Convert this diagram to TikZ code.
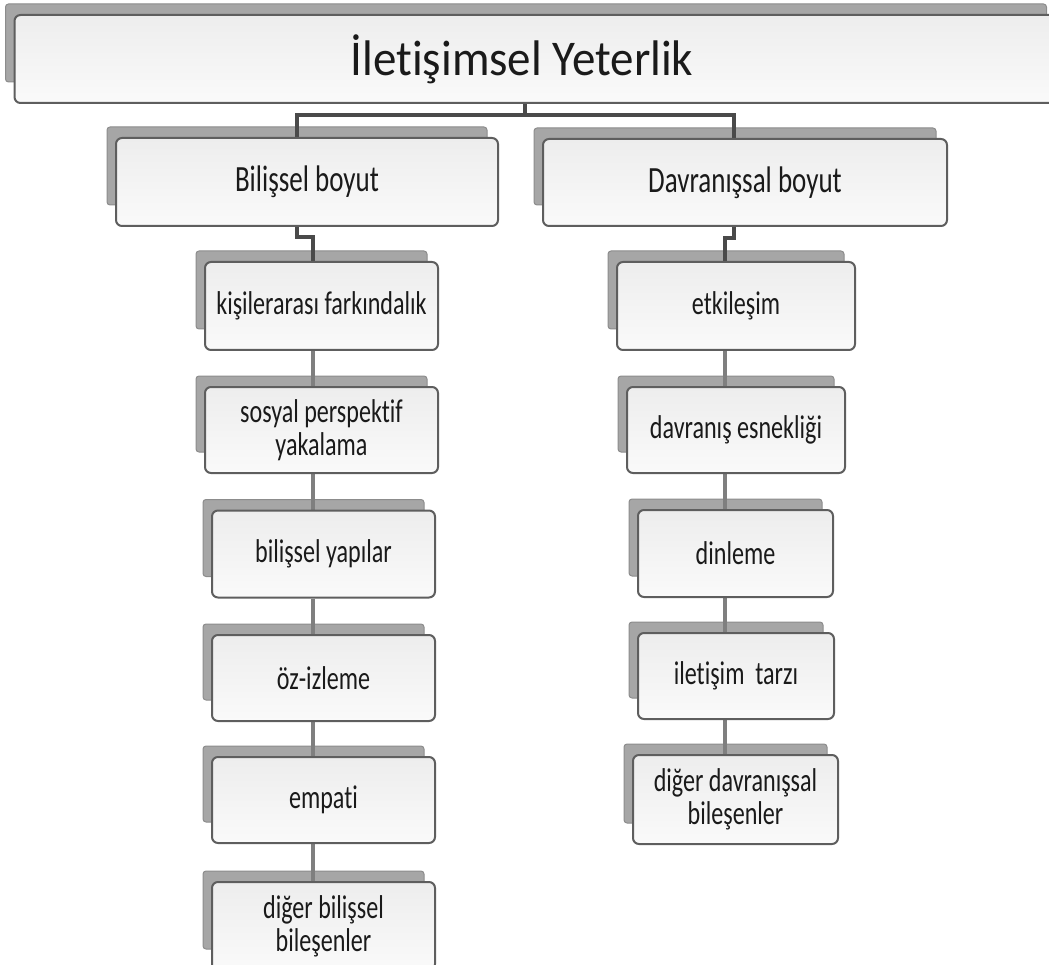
\documentclass[tikz,border=0pt]{standalone}
\usepackage{fontspec}
\setmainfont{Carlito}[Ligatures=NoCommon]
\newfontfamily\boxfont[FakeStretch=0.73,Ligatures=NoCommon]{Carlito}
\newfontfamily\headfont[FakeStretch=0.94,Ligatures=NoCommon]{Carlito}
\usepackage{xcolor}
\usetikzlibrary{calc,backgrounds}

\definecolor{boxline}{HTML}{5E5E5E}
\definecolor{boxtop}{HTML}{EDEDED}
\definecolor{boxbot}{HTML}{FAFAFA}
\definecolor{shade}{HTML}{A6A6A6}
\definecolor{shadeline}{HTML}{8C8C8C}
\definecolor{mainline}{HTML}{4A4A4A}
\definecolor{itemline}{HTML}{7F7F7F}
\definecolor{ink}{HTML}{1A1A1A}

\begin{document}
\begin{tikzpicture}[x=1pt, y=-1pt,
                box/.style={draw=boxline, line width=2pt, rounded corners=6pt,
                  top color=boxtop, bottom color=boxbot, text=ink, inner sep=0pt, align=center},
                title node/.style={box, font=\headfont\fontsize{50}{52}\selectfont},
                dim node/.style={box, font=\boxfont\fontsize{37}{39}\selectfont},
                item node/.style={box, font=\boxfont\fontsize{33}{33}\selectfont},
                main link/.style={draw=mainline, line width=4pt},
                item link/.style={draw=itemline, line width=4.5pt}]

  \useasboundingbox (0,0) rectangle (1049,965);
  \clip (0,0) rectangle (1049,965);

  % top
  \node[title node, minimum width=1043, minimum height=88] (top) at (536,59) {\hspace*{-28pt}İletişimsel Yeterlik};

  % two dimensions
  \node[dim node, minimum width=382, minimum height=88] (b) at (307,182) {Bilişsel boyut};
  \node[dim node, minimum width=404, minimum height=87] (d) at (745,182.5) {Davranışsal boyut};

  % cognitive items
  \node[item node, minimum width=233, minimum height=88] (b1) at (321.5,306) {kişilerarası farkındalık};
  \node[item node, minimum width=233, minimum height=86] (b2) at (321.5,430) {sosyal perspektif\\yakalama};
  \node[item node, minimum width=223, minimum height=87] (b3) at (323.5,554) {bilişsel yapılar};
  \node[item node, minimum width=223, minimum height=86] (b4) at (323.5,678) {öz-izleme};
  \node[item node, minimum width=223, minimum height=86] (b5) at (323.5,800) {empati};
  \node[item node, minimum width=223, minimum height=88] (b6) at (323.5,926) {diğer bilişsel\\bileşenler};

  % behavioural items
  \node[item node, minimum width=238, minimum height=88] (d1) at (736,306) {etkileşim};
  \node[item node, minimum width=218, minimum height=86] (d2) at (736,430) {davranış esnekliği};
  \node[item node, minimum width=195, minimum height=87] (d3) at (735.5,553.5) {dinleme};
  \node[item node, minimum width=196, minimum height=86] (d4) at (736,676) {iletişim\ \ tarzı};
  \node[item node, minimum width=205, minimum height=89] (d5) at (735.5,799.5) {diğer davranışsal\\bileşenler};

  \coordinate (bx) at (313,0);
  \coordinate (dx) at (725,0);

  \begin{scope}[on background layer]
    % 3d backs
    \foreach \n in {top,b,d,b1,b2,b3,b4,b5,b6,d1,d2,d3,d4,d5}
      \filldraw[fill=shade, draw=shadeline, line width=1pt, rounded corners=3pt]
        ($(\n.north west)+(-8,-10)$) rectangle ($(\n.south east)+(-12,-22)$);

    % connectors
    \draw[main link] ([xshift=-11pt]top.south) -- ++(0,11) -| ([xshift=-10pt]b.north);
    \draw[main link] ([xshift=-11pt]top.south) -- ++(0,11) -| ([xshift=-11pt]d.north);
    \draw[main link] ([xshift=-10pt]b.south) -- ++(0,10) -| (b1.north -| bx);
    \draw[main link] ([xshift=-11pt]d.south) -- ++(0,11) -| (d1.north -| dx);

    \draw[item link] (b1.south -| bx) -- (b2.north -| bx);
    \draw[item link] (b2.south -| bx) -- (b3.north -| bx);
    \draw[item link] (b3.south -| bx) -- (b4.north -| bx);
    \draw[item link] (b4.south -| bx) -- (b5.north -| bx);
    \draw[item link] (b5.south -| bx) -- (b6.north -| bx);

    \draw[item link] (d1.south -| dx) -- (d2.north -| dx);
    \draw[item link] (d2.south -| dx) -- (d3.north -| dx);
    \draw[item link] (d3.south -| dx) -- (d4.north -| dx);
    \draw[item link] (d4.south -| dx) -- (d5.north -| dx);
  \end{scope}
\end{tikzpicture}
\end{document}
